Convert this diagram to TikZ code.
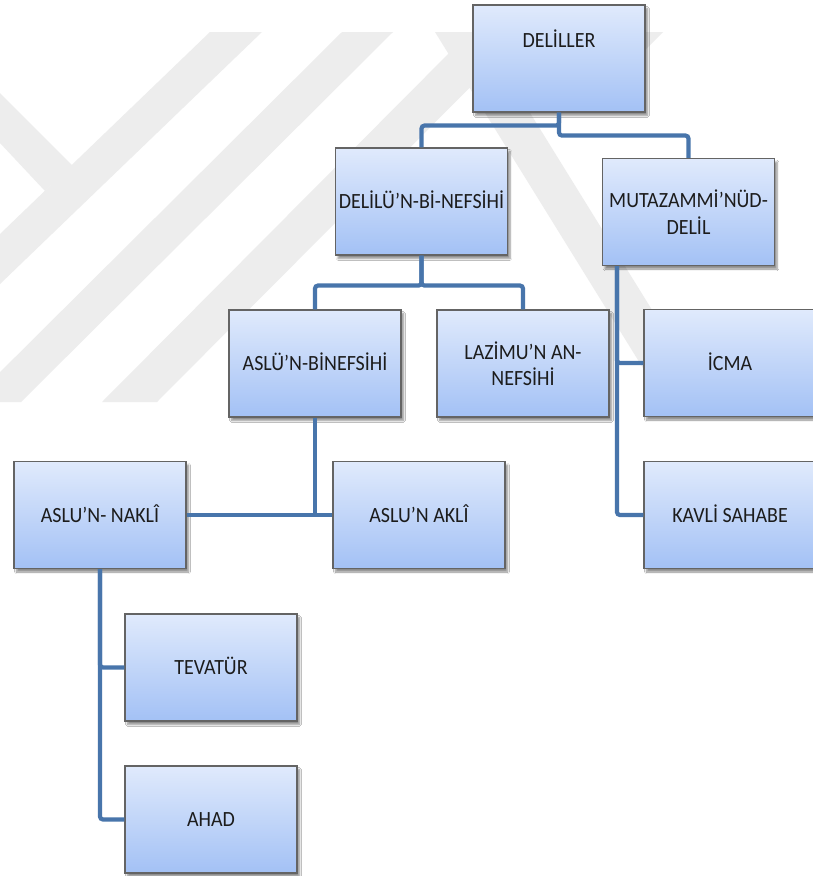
\documentclass[tikz,border=0pt]{standalone}
\usepackage{fontspec}
\setmainfont{Carlito}
\usepackage{graphicx}
\usetikzlibrary{shadows.blur}
\definecolor{boxtop}{RGB}{224,234,252}
\definecolor{boxbot}{RGB}{163,193,245}
\definecolor{boxline}{RGB}{100,100,100}
\definecolor{conncol}{RGB}{72,117,171}
\definecolor{wm}{RGB}{237,237,237}
\definecolor{txt}{RGB}{28,28,28}
\newcommand{\sq}[1]{\scalebox{0.92}[1]{#1}}
\tikzset{
 box/.style={draw=boxline, line width=1.1pt, top color=boxtop, bottom color=boxbot,
   minimum width=172pt, minimum height=107pt, inner sep=0pt, align=center,
   font=\fontsize{21.7}{26.5}\selectfont, text=txt,
   blur shadow={shadow xshift=2.5pt, shadow yshift=-3.5pt, shadow blur steps=6, shadow opacity=45}},
 oneline/.style={text height=14pt, text depth=0pt},
 conn/.style={draw=conncol, line width=4.2pt, rounded corners=3pt},
 wmark/.style={fill=wm, draw=none}
}
\begin{document}
\begin{tikzpicture}[x=1pt,y=-1pt]
\useasboundingbox (0,0) rectangle (812,876);
\fill[white] (0,0) rectangle (812,876);
% watermark
\begin{scope}
\clip (0,0) rectangle (812,876);
\fill[wmark] (210,32) -- (262,32) -- (0,284) -- (0,234) -- cycle;
\fill[wmark] (0,93) -- (72,165) -- (45,191) -- (0,143) -- cycle;
\fill[wmark] (342,32) -- (393,32) -- (21,402) -- (-30,402) -- cycle;
\fill[wmark] (470,32) -- (525,32) -- (157,402) -- (102,402) -- cycle;
\fill[wmark] (435,32) -- (480,32) -- (709,402) -- (664,402) -- cycle;
\fill[wmark] (645,32) -- (663,32) -- (645,50) -- cycle;
\end{scope}
% boxes
\node[box, text height=14pt, text depth=37pt] (del) at (559,58.5) {\sq{DELİLLER}};
\node[box, oneline] (dbn) at (421.5,201.5) {\sq{DELİLÜ’N-Bİ-NEFSİHİ}};
\node[box] (mut) at (688.5,212) {\sq{MUTAZAMMİ’NÜD-}\\\sq{DELİL}};
\node[box, oneline] (abn) at (315,363.5) {\sq{ASLÜ’N-BİNEFSİHİ}};
\node[box] (laz) at (523,363.5) {\sq{LAZİMU’N AN-}\\\sq{NEFSİHİ}};
\node[box, oneline] (icma) at (730,363) {\sq{İCMA}};
\node[box, oneline] (kavli) at (730,515) {\sq{KAVLİ SAHABE}};
\node[box, oneline] (nakli) at (100,515) {\sq{ASLU’N- NAKLÎ}};
\node[box, oneline] (akli) at (419,515) {\sq{ASLU’N AKLÎ}};
\node[box, oneline] (tev) at (211,667.5) {\sq{TEVATÜR}};
\node[box, oneline] (ahad) at (211,819.5) {\sq{AHAD}};
% connectors
\draw[conn] (del.south) -- ++(0,13) -| (dbn.north);
\draw[conn] (del.south) -- ++(0,23) -| (mut.north);
\draw[conn] (dbn.south) -- ++(0,30) -| (abn.north);
\draw[conn] (dbn.south) -- ++(0,30) -| (laz.north);
\coordinate (mt) at ([xshift=15pt]mut.south west);
\draw[conn] (mt) |- (icma.west);
\draw[conn] (mt) |- (kavli.west);
\draw[conn] (abn.south) -- (abn.south |- akli.west);
\draw[conn] (nakli.east) -- (akli.west);
\draw[conn] (nakli.south) |- (tev.west);
\draw[conn] (nakli.south) |- (ahad.west);
\end{tikzpicture}
\end{document}
